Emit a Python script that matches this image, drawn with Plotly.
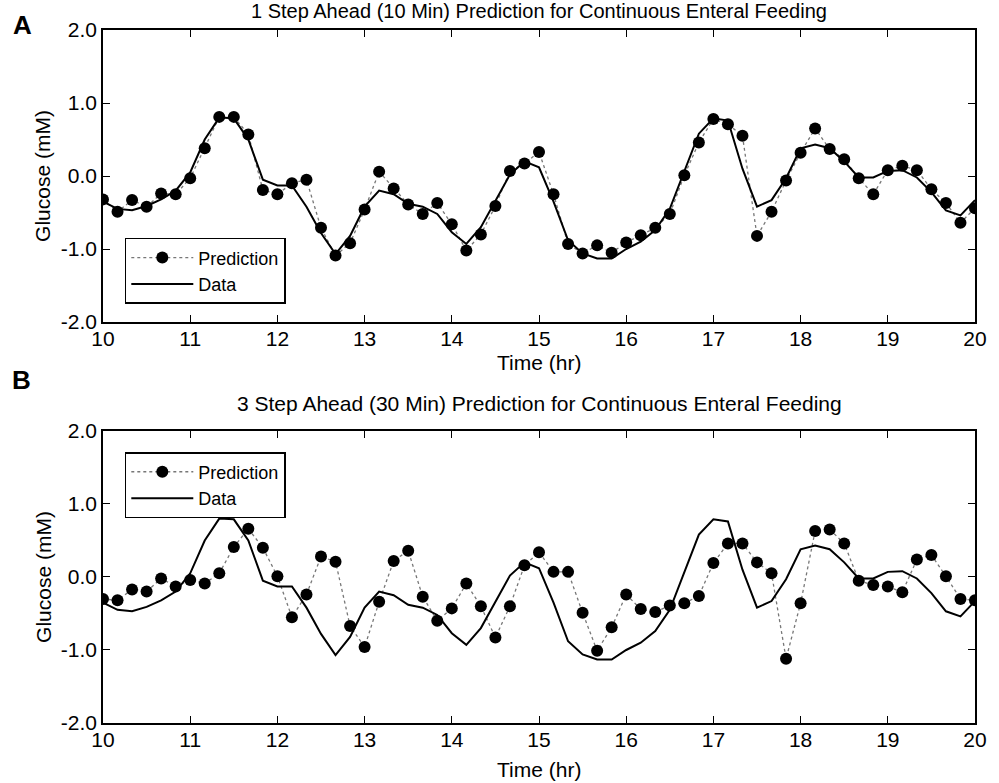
import plotly.graph_objects as go

# time axis: 10-minute samples from 10 to 20 hr
time_hr = [10 + i / 6 for i in range(61)]

# measured glucose (same in both panels)
data_glucose = [
    -0.35, -0.45, -0.47, -0.41, -0.32, -0.20, 0.05, 0.50, 0.80, 0.79,
    0.50, -0.05, -0.13, -0.13, -0.42, -0.78, -1.07, -0.82, -0.42, -0.20,
    -0.25, -0.38, -0.42, -0.52, -0.77, -0.93, -0.70, -0.33, 0.02, 0.20,
    0.12, -0.35, -0.88, -1.06, -1.13, -1.13, -1.00, -0.90, -0.74, -0.45,
    0.06, 0.58, 0.79, 0.76, 0.10, -0.42, -0.33, -0.03, 0.38, 0.43,
    0.38, 0.20, -0.02, -0.02, 0.07, 0.08, -0.02, -0.22, -0.47, -0.54,
    -0.33,
]

# 1 step ahead prediction (panel A)
pred_1step = [
    -0.32, -0.49, -0.33, -0.42, -0.24, -0.25, -0.03, 0.38, 0.81, 0.81,
    0.57, -0.19, -0.25, -0.10, -0.05, -0.71, -1.09, -0.92, -0.46, 0.06,
    -0.17, -0.39, -0.52, -0.37, -0.66, -1.02, -0.80, -0.41, 0.07, 0.17,
    0.33, -0.25, -0.93, -1.06, -0.95, -1.05, -0.91, -0.81, -0.71, -0.52,
    0.01, 0.46, 0.78, 0.71, 0.55, -0.82, -0.49, -0.06, 0.32, 0.65,
    0.37, 0.23, -0.03, -0.25, 0.08, 0.14, 0.08, -0.18, -0.37, -0.64,
    -0.44,
]

# 3 step ahead prediction (panel B)
pred_3step = [
    -0.30, -0.32, -0.17, -0.20, -0.02, -0.13, -0.04, -0.09, 0.05, 0.41,
    0.66, 0.40, 0.01, -0.55, -0.24, 0.28, 0.21, -0.67, -0.96, -0.34,
    0.22, 0.36, -0.27, -0.60, -0.43, -0.09, -0.40, -0.83, -0.40, 0.16,
    0.34, 0.07, 0.07, -0.49, -1.01, -0.69, -0.24, -0.44, -0.48, -0.39,
    -0.36, -0.26, 0.19, 0.46, 0.46, 0.20, 0.05, -1.12, -0.36, 0.63,
    0.65, 0.46, -0.05, -0.11, -0.13, -0.21, 0.24, 0.30, 0.01, -0.30,
    -0.32,
]

title_a = "1 Step Ahead (10 Min) Prediction for Continuous Enteral Feeding"
title_b = "3 Step Ahead (30 Min) Prediction for Continuous Enteral Feeding"
y_ticks = [-2.0, -1.0, 0.0, 1.0, 2.0]
y_tick_labels = ["-2.0", "-1.0", "0.0", "1.0", "2.0"]
x_ticks = list(range(10, 21))

FONT = "Liberation Sans, Arial, sans-serif"

fig = go.Figure()

for k, (pred, xa, ya, lg) in enumerate([
    (pred_1step, "x", "y", "legend"),
    (pred_3step, "x2", "y2", "legend2"),
]):
    fig.add_trace(go.Scatter(
        x=time_hr, y=pred, mode="lines+markers", name="Prediction",
        xaxis=xa, yaxis=ya, legend=lg,
        line=dict(color="#777777", width=1.3, dash="dot"),
        marker=dict(color="black", size=12, symbol="circle"),
    ))
    fig.add_trace(go.Scatter(
        x=time_hr, y=data_glucose, mode="lines", name="Data",
        xaxis=xa, yaxis=ya, legend=lg,
        line=dict(color="black", width=2),
    ))

ax_common = dict(
    showline=True, linecolor="black", linewidth=1.5, mirror="allticks",
    ticks="inside", ticklen=7, tickwidth=1.2, tickcolor="black",
    showgrid=False, zeroline=False,
    tickfont=dict(family=FONT, size=21, color="black"),
)

legend_common = dict(
    xanchor="left", yanchor="top",
    bordercolor="black", borderwidth=1.5, bgcolor="white",
    font=dict(size=18, family=FONT), itemwidth=62, tracegroupgap=0,
)

fig.update_layout(
    width=999, height=783,
    margin=dict(l=103, r=14, t=30, b=60),
    plot_bgcolor="white", paper_bgcolor="white",
    font=dict(family=FONT, color="black"),
    xaxis=dict(domain=[0, 1], range=[10, 20], tickvals=x_ticks, anchor="y",
               ticklabelstandoff=-3, **ax_common),
    yaxis=dict(domain=[0.5786, 1.0], range=[-2, 2], tickvals=y_ticks,
               ticktext=y_tick_labels, anchor="x",
               title=dict(text="Glucose (mM)", font=dict(size=21), standoff=4),
               **ax_common),
    xaxis2=dict(domain=[0, 1], range=[10, 20], tickvals=x_ticks, anchor="y2",
                ticklabelstandoff=-3, **ax_common),
    yaxis2=dict(domain=[0, 0.4214], range=[-2, 2], tickvals=y_ticks,
                ticktext=y_tick_labels, anchor="x2",
                title=dict(text="Glucose (mM)", font=dict(size=21), standoff=4),
                **ax_common),
    legend=dict(x=0.025, y=0.70, **legend_common),
    legend2=dict(x=0.025, y=0.391, **legend_common),
    showlegend=True,
    annotations=[
        dict(text=title_a, x=0.5, y=1.028, xref="paper", yref="paper",
             xanchor="center", yanchor="middle", showarrow=False,
             font=dict(size=20, family=FONT)),
        dict(text=title_b, x=0.5, y=0.461, xref="paper", yref="paper",
             xanchor="center", yanchor="middle", showarrow=False,
             font=dict(size=21, family=FONT)),
        dict(text="Time (hr)", x=0.5, y=0.5195, xref="paper", yref="paper",
             xanchor="center", yanchor="middle", showarrow=False,
             font=dict(size=21, family=FONT)),
        dict(text="Time (hr)", x=0.5, y=-0.0678, xref="paper", yref="paper",
             xanchor="center", yanchor="middle", showarrow=False,
             font=dict(size=21, family=FONT)),
        dict(text="<b>A</b>", x=-0.092, y=1.007, xref="paper", yref="paper",
             xanchor="center", yanchor="middle", showarrow=False,
             font=dict(size=26, family=FONT)),
        dict(text="<b>B</b>", x=-0.094, y=0.495, xref="paper", yref="paper",
             xanchor="center", yanchor="middle", showarrow=False,
             font=dict(size=26, family=FONT)),
    ],
)

fig.write_html("out.html")
